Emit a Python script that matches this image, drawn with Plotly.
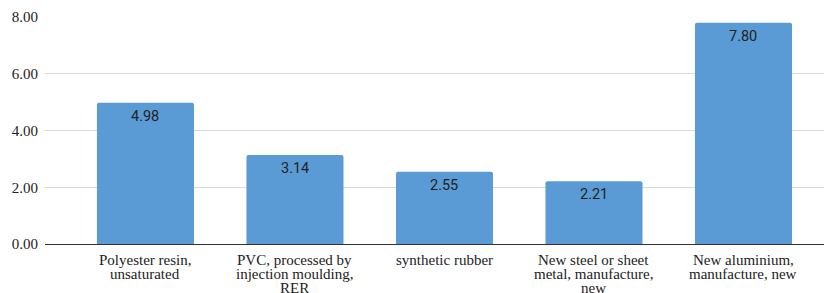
import plotly.graph_objects as go

categories = [
    "Polyester resin,\nunsaturated",
    "PVC, processed by\ninjection moulding,\nRER",
    "synthetic rubber",
    "New steel or sheet\nmetal, manufacture,\nnew",
    "New aluminium,\nmanufacture, new",
]
values = [4.98, 3.14, 2.55, 2.21, 7.80]
y_ticks = [0, 2, 4, 6, 8]
y_tick_labels = ["0.00", "2.00", "4.00", "6.00", "8.00"]

bar_color = "#5b9bd5"
serif = "Liberation Serif"

keys = [str(i) for i in range(len(categories))]

fig = go.Figure(
    go.Bar(
        x=keys,
        y=values,
        marker=dict(color=bar_color, line=dict(width=0), cornerradius=2),
        hoverinfo="skip",
    )
)

annotations = []
for key, v in zip(keys, values):
    annotations.append(
        dict(
            x=key, y=v, xref="x", yref="y",
            xanchor="center", yanchor="top", yshift=-3,
            text=f"{v:.2f}", showarrow=False,
            font=dict(family="Roboto", size=14.5, color="#222222"),
        )
    )
for key, cat in zip(keys, categories):
    for j, line in enumerate(cat.split("\n")):
        annotations.append(
            dict(
                x=key, y=0, xref="x", yref="paper",
                xanchor="center", yanchor="top",
                yshift=-(6 + 13.8 * j),
                text=line, showarrow=False,
                font=dict(family=serif, size=15, color="#222222"),
            )
        )

# page body has an 8px margin: compensate so the plot area lands where the reference has it
fig.update_layout(
    width=824,
    height=285,
    margin=dict(l=37, r=0, t=9, b=49),
    font=dict(family=serif),
    paper_bgcolor="white",
    plot_bgcolor="white",
    bargap=0.351,
    showlegend=False,
    annotations=annotations,
    xaxis=dict(
        type="category",
        range=[-0.672, 4.592],
        showticklabels=False,
        showgrid=False,
        showline=False,
        zeroline=False,
        fixedrange=True,
    ),
    yaxis=dict(
        range=[0, 8],
        tickvals=y_ticks,
        ticktext=y_tick_labels,
        tickfont=dict(family=serif, size=15, color="#222222"),
        showgrid=True,
        gridcolor="#d9d9d9",
        gridwidth=1,
        zeroline=True,
        zerolinecolor="#333333",
        zerolinewidth=1,
        showline=False,
        ticks="",
        ticklabelstandoff=6,
        fixedrange=True,
    ),
)

fig.write_html("out.html")
